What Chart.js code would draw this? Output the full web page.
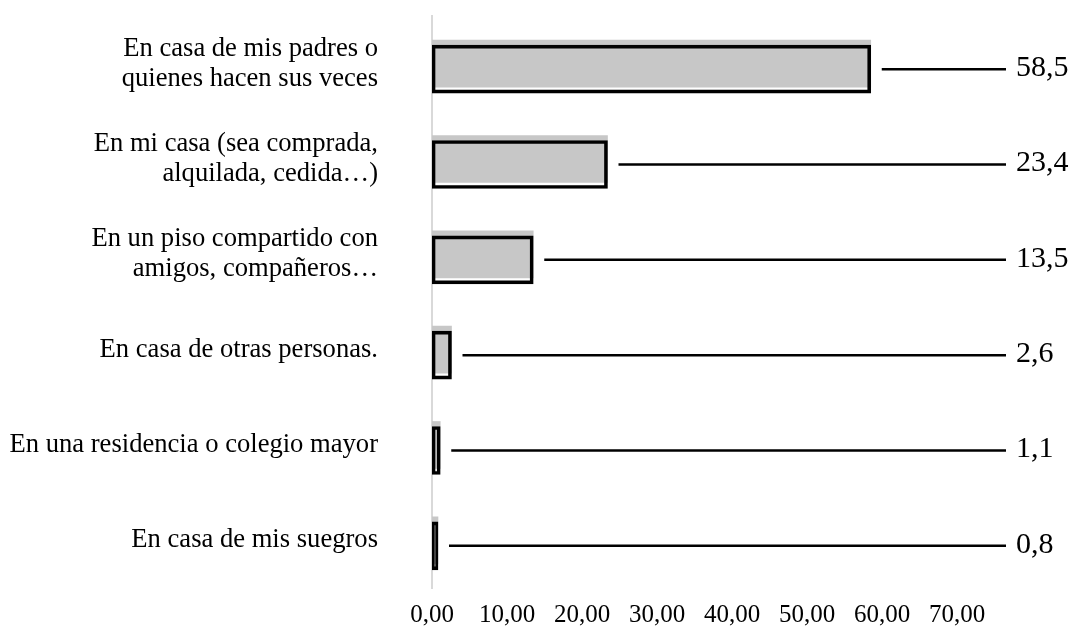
<!DOCTYPE html>
<html lang="es">

<head>
  <meta charset="UTF-8">
  <title>Lugar de residencia</title>
  <script src="https://cdn.jsdelivr.net/npm/chart.js"></script>
  <style>
    html, body { margin: 0; padding: 0; background: #fff; }
    .chart-wrapper { position: relative; width: 1075px; height: 630px; }
  </style>
</head>

<body>
  <div class="chart-wrapper"><canvas id="residenciaChart"></canvas></div>

  <script>
    const categories = [
      ['En casa de mis padres o', 'quienes hacen sus veces'],
      ['En mi casa (sea comprada,', 'alquilada, cedida…)'],
      ['En un piso compartido con', 'amigos, compañeros…'],
      'En casa de otras personas.',
      'En una residencia o colegio mayor',
      'En casa de mis suegros'
    ];
    const values = [58.5, 23.4, 13.5, 2.6, 1.1, 0.8];
    const xTicks = [0, 10, 20, 30, 40, 50, 60, 70];

    const serif = '"Liberation Serif", "Times New Roman", serif';
    const fmt = (v, d) => v.toFixed(d).replace('.', ',');

    // Líneas guía y etiqueta con el valor a la derecha de cada barra
    const valueLabels = {
      id: 'valueLabels',
      afterDatasetsDraw(chart) {
        const { ctx, chartArea } = chart;
        const meta = chart.getDatasetMeta(1);
        ctx.save();
        meta.data.forEach((bar, i) => {
          ctx.strokeStyle = '#000';
          ctx.lineWidth = 2.5;
          ctx.beginPath();
          ctx.moveTo(bar.x + 11, bar.y);
          ctx.lineTo(chartArea.right + 49, bar.y);
          ctx.stroke();
          ctx.fillStyle = '#000';
          ctx.font = '30px ' + serif;
          ctx.textAlign = 'left';
          ctx.textBaseline = 'middle';
          ctx.fillText(fmt(values[i], 1), chartArea.right + 59, bar.y - 1);
        });
        ctx.restore();
      }
    };

    const ctx = document.getElementById('residenciaChart').getContext('2d');
    new Chart(ctx, {
      type: 'bar',
      data: {
        datasets: [
          {
            // relleno gris
            data: values.map((v, i) => ({ x: v, y: i })),
            backgroundColor: '#c7c7c7',
            borderWidth: 0,
            barThickness: 47,
            grouped: false,
            order: 2
          },
          {
            // contorno negro algo desplazado hacia abajo
            data: values.map((v, i) => ({ x: v, y: i + 0.058 })),
            backgroundColor: 'rgba(0,0,0,0)',
            borderColor: '#000',
            borderWidth: 3,
            borderSkipped: false,
            barThickness: 48,
            grouped: false,
            order: 1
          }
        ]
      },
      options: {
        indexAxis: 'y',
        responsive: true,
        maintainAspectRatio: false,
        animation: false,
        layout: { padding: { top: 16, right: 118, bottom: 0, left: 0 } },
        plugins: { legend: { display: false }, tooltip: { enabled: false } },
        scales: {
          x: {
            type: 'linear',
            min: 0,
            max: 70,
            afterBuildTicks: (scale) => {
              scale.ticks = xTicks.map(v => ({ value: v }));
              scale.min = 0;
              scale.max = 70;
            },
            grid: { display: false },
            border: { display: false },
            ticks: {
              color: '#000',
              font: { family: serif, size: 25 },
              padding: 4,
              maxRotation: 0,
              callback: (v) => fmt(v, 2)
            },
            afterFit: (scale) => { scale.height = 42; }
          },
          y: {
            type: 'linear',
            reverse: true,
            offset: false,
            min: -0.5,
            max: 5.5,
            afterBuildTicks: (scale) => {
              scale.ticks = categories.map((_, i) => ({ value: i }));
              scale.min = -0.5;
              scale.max = 5.5;
            },
            grid: { display: false },
            border: { display: true, color: '#d9d9d9', width: 2 },
            ticks: {
              color: '#000',
              autoSkip: false,
              font: { family: serif, size: 26.6, lineHeight: 1.12 },
              padding: 46,
              callback: (v) => categories[v]
            },
            afterFit: (scale) => {
              scale.width = 432;
              scale.paddingTop = 0;
              scale.paddingBottom = 0;
            }
          }
        }
      },
      plugins: [valueLabels]
    });
  </script>
</body>

</html>
